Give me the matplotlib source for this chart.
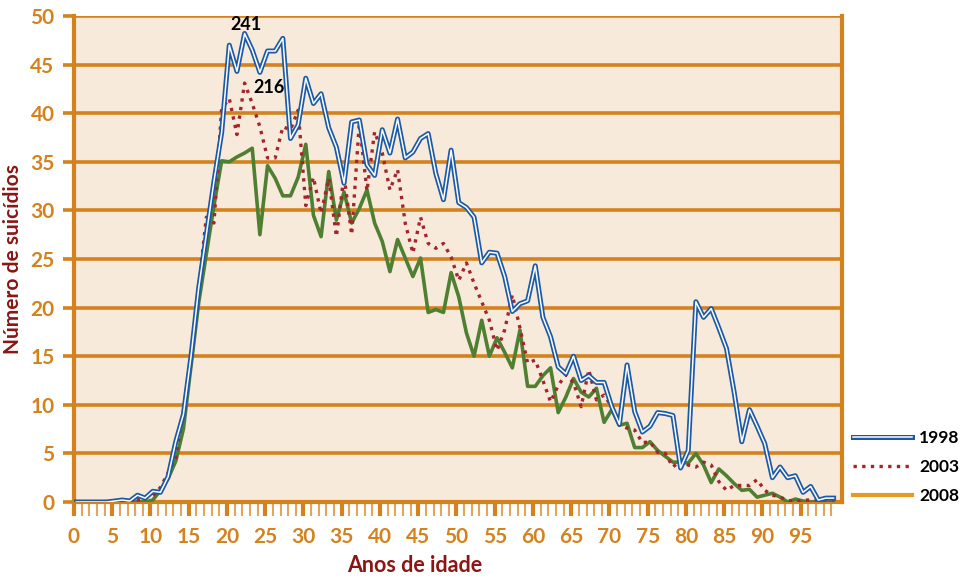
import numpy as np
import matplotlib
matplotlib.use("Agg")
import matplotlib.pyplot as plt
import matplotlib.patheffects as pe
from matplotlib.lines import Line2D

# ages 0..99
ages = np.arange(100)

suicides_1998 = [
    0, 0, 0, 0, 0, 0.1, 0.2, 0.1, 0.7, 0.4,
    1.1, 1.0, 2.6, 6.2, 9.0, 15.0, 22.0, 27.5, 33.0, 38.0,
    47.0, 44.3, 48.2, 46.5, 44.2, 46.4, 46.4, 47.7, 37.4, 38.8,
    43.6, 41.0, 42.0, 38.5, 36.5, 32.8, 39.1, 39.3, 34.7, 33.6,
    38.3, 35.9, 39.4, 35.4, 36.0, 37.4, 37.9, 33.8, 31.1, 36.2,
    30.8, 30.3, 29.3, 24.6, 25.7, 25.6, 23.2, 19.6, 20.4, 20.7,
    24.3, 19.0, 17.0, 13.9, 13.2, 15.0, 12.5, 13.0, 12.3, 12.3,
    9.8, 8.0, 14.1, 9.3, 7.2, 7.8, 9.2, 9.1, 8.9, 3.5,
    5.3, 20.6, 19.0, 19.9, 17.9, 15.8, 11.3, 6.2, 9.5, 7.8,
    6.0, 2.5, 3.6, 2.5, 2.7, 1.0, 1.6, 0.2, 0.4, 0.4,
]

suicides_2003 = [
    0, 0, 0, 0, 0, 0, 0, 0, 0.2, 0.5,
    0.6, 1.5, 3.0, 4.5, 9.5, 14.6, 22.0, 29.3, 28.7, 40.5,
    41.5, 37.8, 43.1, 41.0, 38.6, 35.4, 35.4, 38.6, 38.3, 40.3,
    30.5, 33.4, 29.7, 33.3, 27.3, 33.6, 27.5, 39.0, 32.0, 38.1,
    35.9, 32.1, 34.2, 28.7, 25.6, 29.3, 26.6, 26.1, 26.6, 25.2,
    22.8, 24.6, 22.5, 20.6, 18.7, 15.6, 17.7, 21.3, 17.9, 14.3,
    14.6, 12.5, 10.3, 12.0, 13.1, 12.3, 9.8, 13.6, 10.5, 11.0,
    9.8, 7.9, 7.6, 7.4, 6.1, 6.2, 5.1, 5.0, 3.6, 4.3,
    3.8, 3.6, 4.1, 3.8, 2.1, 1.2, 1.7, 1.7, 1.7, 2.3,
    1.2, 0.7, 0.5, 0.2, 0.0, 0.2, 0.2, 0.2, 0.2, 0.2,
]

suicides_2008 = [
    0, 0, 0, 0, 0, 0.1, 0.1, 0, 0, 0,
    0.2, 1.2, 2.4, 4.2, 7.5, 14.0, 20.5, 25.5, 30.5, 35.1,
    35.0, 35.5, 35.9, 36.4, 27.5, 34.6, 33.3, 31.5, 31.5, 33.4,
    36.8, 29.5, 27.3, 34.0, 29.0, 31.9, 28.7, 30.2, 32.1, 28.7,
    26.8, 23.7, 27.0, 25.1, 23.2, 25.1, 19.5, 19.8, 19.5, 23.6,
    21.1, 17.4, 15.0, 18.7, 15.0, 16.9, 15.4, 13.8, 17.7, 11.9,
    11.9, 13.0, 13.8, 9.2, 10.8, 12.7, 11.3, 10.8, 11.7, 8.2,
    9.5, 7.9, 8.1, 5.6, 5.6, 6.2, 5.3, 4.7, 4.1, 4.1,
    4.0, 5.0, 3.8, 2.0, 3.4, 2.7, 1.9, 1.2, 1.3, 0.5,
    0.7, 0.9, 0.5, 0.0, 0.3, 0.1, 0, 0, 0, 0,
]

years = ["1998", "2003", "2008"]
peak_labels = ["241", "216"]

orange = "#D4821E"
bg = "#F7EADB"
blue = "#1C5AA6"
red = "#A4262C"
green = "#4F7F31"
darkred = "#8B1515"

plt.rcParams["font.family"] = ["Lato", "DejaVu Sans"]

fig = plt.figure(figsize=(9.64, 5.79), dpi=100)
ax = fig.add_axes([74 / 964, 1 - 502 / 579, 768 / 964, 486 / 579])
ax.set_facecolor(bg)

x = ages + 0.3
ax.plot(x, suicides_1998, color="white", lw=1.1, zorder=5,
        path_effects=[pe.Stroke(linewidth=3.6, foreground=blue), pe.Normal()])
ax.plot(x, suicides_2003, color=red, lw=2.4, ls=(0, (1, 1.6)), zorder=4)
ax.plot(x, suicides_2008, color=green, lw=2.6, zorder=3)

# peak labels
i98 = int(np.argmax(suicides_1998))
i03 = int(np.argmax(suicides_2003))
ax.annotate(peak_labels[0], (x[i98], suicides_1998[i98]), xytext=(1, 0.5),
            textcoords="offset points", ha="center", va="bottom",
            fontsize=13, fontweight="bold", color="black", zorder=6)
ax.annotate(peak_labels[1], (x[i03], suicides_2003[i03]), xytext=(6, -3),
            textcoords="offset points", ha="left", va="center",
            fontsize=13, fontweight="bold", color="black", zorder=6)

ax.set_xlim(0, 100.4)
ax.set_ylim(0, 50)
ax.set_yticks(np.arange(0, 51, 5))
ax.set_xticks(np.arange(0, 96, 5))
ax.set_xticks(np.arange(0, 100), minor=True)
ax.grid(axis="y", color=orange, lw=2.6, zorder=1)
ax.set_axisbelow(True)

for side in ["left", "right", "bottom"]:
    ax.spines[side].set_color(orange)
    ax.spines[side].set_linewidth(3)
ax.spines["top"].set_visible(False)

ax.tick_params(axis="y", which="major", colors=orange, length=8, width=2.6,
               labelsize=15, pad=6)
ax.tick_params(axis="x", which="major", colors=orange, length=10, width=3,
               labelsize=15, pad=8)
ax.tick_params(axis="x", which="minor", colors="#E2A55C", length=10, width=1.5)
for lab in ax.get_xticklabels() + ax.get_yticklabels():
    lab.set_fontweight("bold")

ax.set_ylabel("Número de suicídios", color=darkred, fontsize=15,
              fontweight="bold")
ax.yaxis.set_label_coords(-0.066, 0.5)
ax.set_xlabel("Anos de idade", color=darkred, fontsize=15.5, fontweight="bold")
ax.xaxis.set_label_coords(0.444, -0.11)

handles = [
    Line2D([], [], color="white", lw=1.1,
           path_effects=[pe.Stroke(linewidth=3.6, foreground=blue), pe.Normal()]),
    Line2D([], [], color=red, lw=2.4, ls=(0, (1, 1.6))),
    Line2D([], [], color="#E39B25", lw=3),
]
leg = fig.legend(handles, years, loc="center left",
                 bbox_to_anchor=(853 / 964, 1 - 467 / 579), frameon=False,
                 handlelength=3.4, handletextpad=0.4, labelspacing=0.75,
                 borderpad=0, borderaxespad=0,
                 prop={"size": 12.5, "weight": "bold"})

fig.savefig("out.png", dpi=100)
